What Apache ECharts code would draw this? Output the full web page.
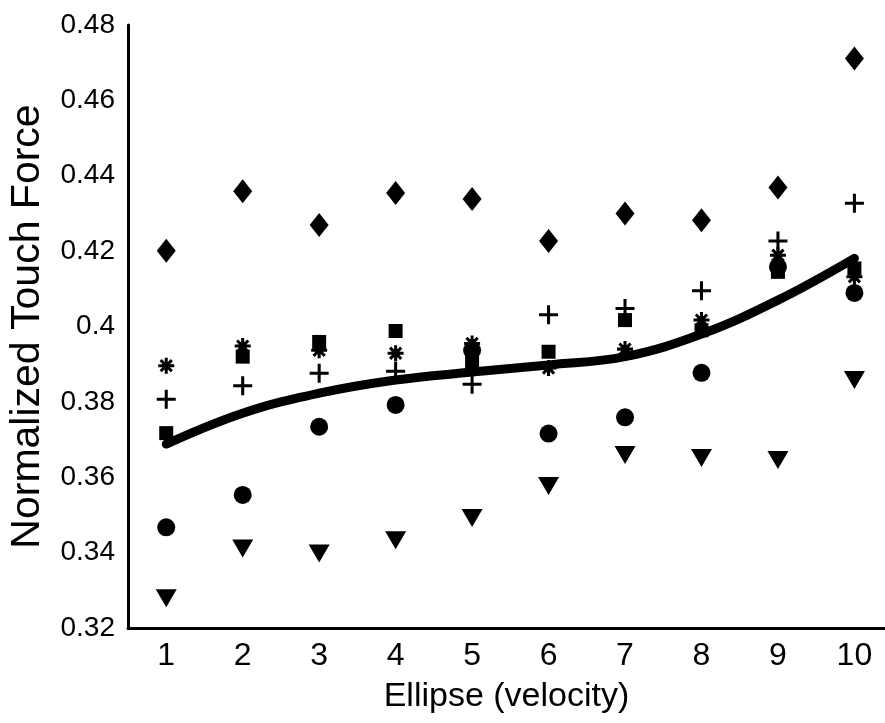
<!DOCTYPE html>
<html>
<head>
<meta charset="utf-8">
<title>Normalized Touch Force vs Ellipse velocity</title>
<script src="https://cdn.jsdelivr.net/npm/echarts@6/dist/echarts.min.js"></script>
<style>
  html, body { margin: 0; padding: 0; background: #fff; }
  #chart { width: 885px; height: 723px; }
</style>
</head>
<body>
<div id="chart"></div>
<script>
// x values (velocity steps)
const velocity = [1, 2, 3, 4, 5, 6, 7, 8, 9, 10]

// one array per marker type
const diamondVals  = [0.4201, 0.4359, 0.4269, 0.4354, 0.4338, 0.4227, 0.4300, 0.4282, 0.4369, 0.4711]
const plusVals     = [0.3807, 0.3843, 0.3876, 0.3881, 0.3847, 0.4031, 0.4048, 0.4095, 0.4227, 0.4327]
const starVals     = [0.3896, 0.3948, 0.3937, 0.3929, 0.3955, 0.3890, 0.3940, 0.4017, 0.4189, 0.4132]
const squareVals   = [0.3717, 0.3920, 0.3959, 0.3988, 0.3905, 0.3933, 0.4017, 0.3990, 0.4145, 0.4154]
const circleVals   = [0.3467, 0.3553, 0.3734, 0.3792, 0.3937, 0.3716, 0.3759, 0.3877, 0.4158, 0.4089]
const triangleVals = [0.3279, 0.3411, 0.3398, 0.3433, 0.3492, 0.3577, 0.3659, 0.3651, 0.3646, 0.3858]

// fitted trend (thick curve)
const fitVals      = [0.3688, 0.3770, 0.3823, 0.3858, 0.3879, 0.3898, 0.3920, 0.3980, 0.4070, 0.4181]

const yTicks = { min: 0.32, max: 0.48, interval: 0.02 }

const FONT = 'Liberation Sans, Arial, sans-serif'

const PLUS = 'path://M4.2,0h1.6v4.2h4.2v1.6h-4.2v4.2h-1.6v-4.2h-4.2v-1.6h4.2z'
// chunky asterisk: 4 bars + a filled hub
const STAR = 'path://M0,8.1h20v3.8h-20z M8.1,0h3.8v20h-3.8z' +
  ' M4.34,1.66L18.34,15.66L15.66,18.34L1.66,4.34z' +
  ' M15.66,1.66L18.34,4.34L4.34,18.34L1.66,15.66z' +
  ' M5,5h10v10h-10z'

const pairs = vals => velocity.map((v, i) => [v, vals[i]])

const scatter = (name, vals, symbol, size, rotate) => ({
  name,
  type: 'scatter',
  data: pairs(vals),
  symbol,
  symbolSize: size,
  symbolRotate: rotate || 0,
  itemStyle: { color: '#000', opacity: 1 },
  z: 3,
})

const chart = echarts.init(document.getElementById('chart'), null, { renderer: 'canvas' })

chart.setOption({
  animation: false,
  backgroundColor: '#fff',
  grid: { left: 128, right: 0, top: 25, bottom: 95, outerBoundsMode: 'none', containLabel: false },
  xAxis: {
    type: 'value',
    min: 0.5,
    max: 10.4,
    name: 'Ellipse (velocity)',
    nameLocation: 'middle',
    nameGap: 52,
    nameTextStyle: { color: '#000', fontSize: 34, fontFamily: FONT },
    axisLine: { show: true, lineStyle: { color: '#000', width: 3 } },
    axisTick: { show: false },
    splitLine: { show: false },
    axisLabel: {
      customValues: velocity,
      color: '#000',
      fontSize: 32,
      fontFamily: FONT,
      margin: 12,
    },
  },
  yAxis: {
    type: 'value',
    min: yTicks.min,
    max: yTicks.max,
    interval: yTicks.interval,
    name: 'Normalized Touch Force',
    nameLocation: 'middle',
    nameGap: 80,
    nameTextStyle: { color: '#000', fontSize: 41, fontFamily: FONT },
    axisLine: { show: true, lineStyle: { color: '#000', width: 3 } },
    axisTick: { show: false },
    splitLine: { show: false },
    axisLabel: {
      color: '#000',
      fontSize: 28,
      fontFamily: FONT,
      margin: 13,
      formatter: v => String(+v.toFixed(2)),
    },
  },
  series: [
    scatter('diamond', diamondVals, 'diamond', [19, 24]),
    scatter('plus', plusVals, PLUS, 19),
    scatter('star', starVals, STAR, 16),
    scatter('square', squareVals, 'rect', 14),
    scatter('circle', circleVals, 'circle', 18),
    scatter('triangle', triangleVals, 'triangle', [21, 18], 180),
    {
      name: 'fit',
      type: 'line',
      data: pairs(fitVals),
      smooth: 0.4,
      showSymbol: false,
      lineStyle: { color: '#000', width: 9, cap: 'round' },
      z: 4,
    },
  ],
})
</script>
</body>
</html>
